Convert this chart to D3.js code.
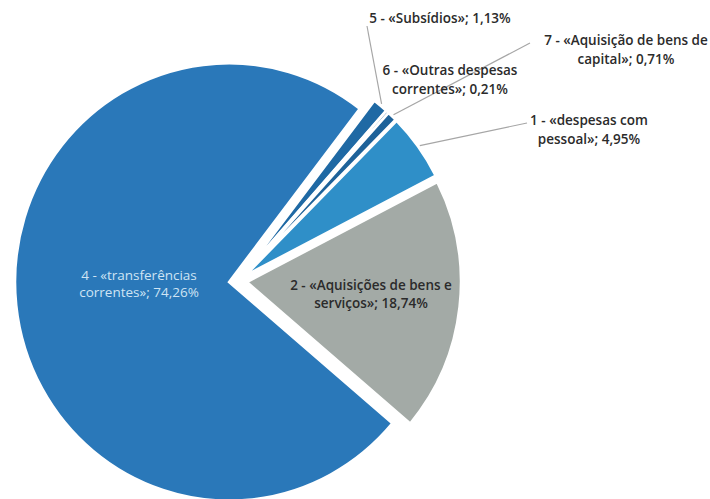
<!DOCTYPE html>
<html>
<head>
<meta charset="utf-8">
<script src="https://cdn.jsdelivr.net/npm/d3@7"></script>
<style>
  html, body { margin: 0; padding: 0; background: #ffffff; }
  svg { display: block; }
  text { font-family: "Open Sans", "DejaVu Sans", sans-serif; }
</style>
</head>
<body>
<svg id="chart" width="710" height="499"></svg>
<script>
// Budget execution by economic classification (share of total, %)
const categories = [
  "1 - «despesas com pessoal»",
  "2 - «Aquisições de bens e serviços»",
  "4 - «transferências correntes»",
  "5 - «Subsídios»",
  "6 - «Outras despesas correntes»",
  "7 - «Aquisição de bens de capital»"
];
const shares = [4.95, 18.74, 74.26, 1.13, 0.21, 0.71];
const shareLabels = ["4,95%", "18,74%", "74,26%", "1,13%", "0,21%", "0,71%"];
// label text broken into lines as displayed
const labelLines = [
  ["1 - «despesas com", "pessoal»; 4,95%"],
  ["2 - «Aquisições de bens e", "serviços»; 18,74%"],
  ["4 - «transferências", "correntes»; 74,26%"],
  ["5 - «Subsídios»; 1,13%"],
  ["6 - «Outras despesas", "correntes»; 0,21%"],
  ["7 - «Aquisição de bens de", "capital»; 0,71%"]
];

const colors = ["#2f8fc8", "#a3aaa6", "#2a78b9", "#1f69a4", "#1d6096", "#1e6299"];

const svg = d3.select("#chart");
const cx = 238, cy = 281;
const radius = 214;
const explode = 9;
const startDeg = 45;

const pie = d3.pie()
  .sort(null)
  .value(d => d)
  .startAngle(startDeg * Math.PI / 180)
  .endAngle(startDeg * Math.PI / 180 + 2 * Math.PI);

const arcs = pie(shares);
const arc = d3.arc().innerRadius(0).outerRadius(radius);

const pieG = svg.append("g")
  .attr("transform", `translate(${cx},${cy}) scale(1,1.022)`);

pieG.selectAll("path")
  .data(arcs)
  .join("path")
  .attr("d", arc)
  .attr("fill", (d, i) => colors[i])
  .attr("stroke", "#ffffff")
  .attr("stroke-width", 2.5)
  .attr("stroke-linejoin", "miter")
  .attr("transform", d => {
    const a = (d.startAngle + d.endAngle) / 2;
    return `translate(${explode * Math.sin(a)},${-explode * Math.cos(a)})`;
  });

// label placement: centre x, first baseline, line gap, style
const labelLayout = [
  { x: 589, y: 125, gap: 19, fill: "#2b2b2b", weight: 600 },
  { x: 371, y: 290, gap: 18, fill: "#2b2b2b", weight: 600 },
  { x: 139, y: 280, gap: 17, fill: "#cfe4f4", weight: 400 },
  { x: 440, y: 23,  gap: 19, fill: "#2b2b2b", weight: 600 },
  { x: 450, y: 75,  gap: 19, fill: "#2b2b2b", weight: 600 },
  { x: 626, y: 45,  gap: 19, fill: "#2b2b2b", weight: 600 }
];

// leader lines: from label edge to the slice's outer rim
const leaderFrom = [
  [527, 123], null, null, [367, 26], null, [530, 43]
];

function rimPoint(d, extra) {
  const a = (d.startAngle + d.endAngle) / 2;
  const r = radius + explode + extra;
  return [cx + r * Math.sin(a), cy - r * Math.cos(a) * 1.022];
}

const leaders = svg.append("g")
  .attr("stroke", "#a6a6a6")
  .attr("stroke-width", 1.2)
  .attr("fill", "none");

arcs.forEach((d, i) => {
  if (!leaderFrom[i]) return;
  const p = rimPoint(d, 2);
  leaders.append("line")
    .attr("x1", leaderFrom[i][0]).attr("y1", leaderFrom[i][1])
    .attr("x2", p[0]).attr("y2", p[1]);
});

const labels = svg.append("g").attr("text-anchor", "middle");
labelLines.forEach((lines, i) => {
  const L = labelLayout[i];
  const t = labels.append("text")
    .attr("x", L.x)
    .attr("y", L.y)
    .attr("fill", L.fill)
    .attr("font-size", 13.5)
    .attr("font-weight", L.weight);
  lines.forEach((s, k) => {
    t.append("tspan")
      .attr("x", L.x)
      .attr("y", L.y + k * L.gap)
      .text(s);
  });
});
</script>
</body>
</html>
